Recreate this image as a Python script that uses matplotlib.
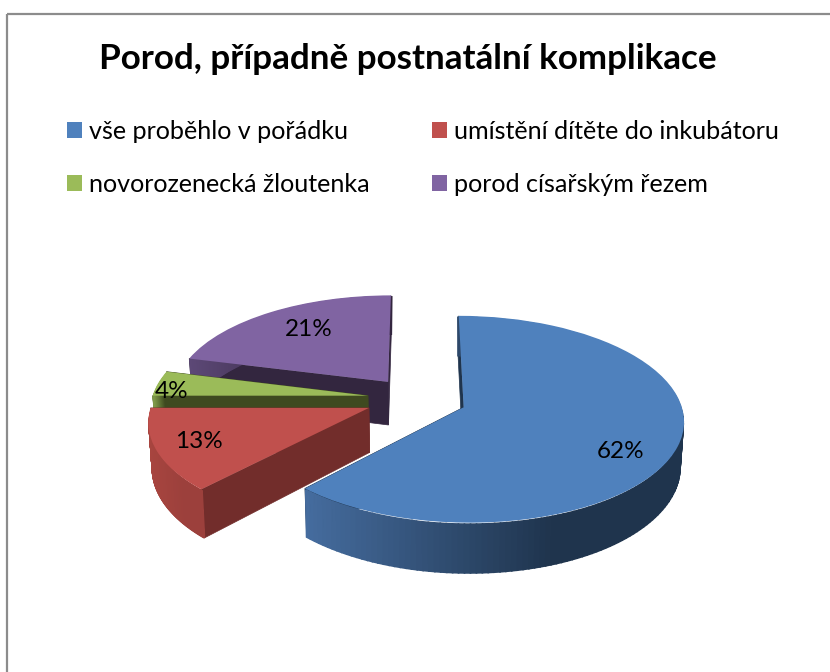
import numpy as np
import matplotlib
matplotlib.use('Agg')
import matplotlib.pyplot as plt
import matplotlib.transforms as mtransforms
from matplotlib.colors import to_rgb
from matplotlib.patches import Polygon

title = 'Porod, případně postnatální komplikace'
categories = ['vše proběhlo v pořádku', 'umístění dítěte do inkubátoru',
              'novorozenecká žloutenka', 'porod císařským řezem']
values = [62, 13, 4, 21]
colors = ['#4f81bd', '#c0504d', '#9bbb59', '#8064a2']
cut_colors = ['#1f344d', '#722d2b', '#3f4a20', '#33263f']
rim_light = ['#456c9e', '#a8453f', '#7d9748', '#5c4876']
rim_dark = ['#1f344d', '#9c403c', '#3f4a20', '#33263f']
explode = [0.235, 0.235, 0.225, 0.215]
label_pos = [(621, 451), (199, 442), (172, 391), (309, 329)]

# perspective of the pie plane, in pixels
sx, sy = 416, 398.5
kx, ky = 216, 100
p = 0.115
depth = 44


class Persp(mtransforms.Transform):
    input_dims = 2
    output_dims = 2

    def transform_non_affine(self, xy):
        xy = np.asarray(xy, dtype=float)
        w = 1 + p * xy[:, 1]
        return np.column_stack((sx + kx * xy[:, 0] / w, sy - ky * xy[:, 1] / w))


persp = Persp()


def extrude(pts):
    # bottom edge of a side face, below the top one
    uv = np.asarray(pts)
    top = persp.transform(uv)
    w = 1 + p * uv[:, 1]
    bot = np.column_stack((sx + (top[:, 0] - sx) * 0.985, top[:, 1] + depth / w))
    return top, bot


def side_face(ax, pts, color, z):
    top, bot = extrude(pts)
    ax.add_patch(Polygon(np.vstack((top, bot[::-1])), closed=True, fc=color, ec=color, lw=0.5, zorder=z))


plt.rcParams['font.family'] = ['Lato', 'DejaVu Sans']
fig = plt.figure(figsize=(8.3, 6.72), dpi=100)
ax = fig.add_axes([0, 0, 1, 1])

wedges, _ = ax.pie(values, colors=colors, explode=explode, startangle=90, counterclock=False)
ax.set_aspect('auto')
ax.set_xlim(0, 830)
ax.set_ylim(672, 0)
ax.axis('off')

# back to front: purple, green, red, blue
draw_order = [3, 2, 1, 0]
for n, i in enumerate(draw_order):
    wd = wedges[i]
    base = 10 + n * 5
    cx, cy = wd.center
    t = np.radians(np.linspace(wd.theta1, wd.theta2, 160))
    rim = np.column_stack((cx + wd.r * np.cos(t), cy + wd.r * np.sin(t)))

    # the two cut faces
    for k in [0, -1]:
        side_face(ax, [rim[k], (cx, cy)], cut_colors[i], base)

    # outer wall as thin strips, lighter towards the left
    top, bot = extrude(rim)
    # pull the top of the strips in so their stroke stays under the top face
    top_in = top + np.column_stack((np.sign(sx - top[:, 0]) * 0.8, np.full(len(top), 1.5)))
    light, dark = np.array(to_rgb(rim_light[i])), np.array(to_rgb(rim_dark[i]))
    x_lo, x_hi = top[:, 0].min(), top[:, 0].max()
    for j in range(len(rim) - 1):
        f = np.clip((top[j, 0] - x_lo) / (0.65 * (x_hi - x_lo)), 0, 1)
        c = light + (dark - light) * f
        quad = np.vstack((top_in[j:j + 2], bot[j:j + 2][::-1]))
        ax.add_patch(Polygon(quad, closed=True, fc=c, ec=c, lw=1.2, zorder=base + 1))

    wd.set_transform(persp + ax.transData)
    wd.set_zorder(base + 2)
    wd.set_edgecolor('none')
    wd.set_clip_on(False)

    ax.text(label_pos[i][0], label_pos[i][1], f'{values[i]}%', ha='center', va='center',
            fontsize=17.5, color='black', zorder=40)

ax.text(408, 59, title, ha='center', va='center', fontsize=25.2, fontweight='bold', color='black')

# row order in the legend comes from filling column by column
order = [0, 2, 1, 3]
leg = ax.legend([wedges[i] for i in order], [categories[i] for i in order], ncols=2,
                loc='upper left', bbox_to_anchor=(67 / 830, 1 - 120 / 672), frameon=False,
                fontsize=18.1, handlelength=0.6, handleheight=0.6, handletextpad=0.27,
                columnspacing=2.5, labelspacing=1.2, borderpad=0, borderaxespad=0)

# what is left of the chart frame
ax.plot([7, 7], [672, 13.5], color='#8c8c8c', lw=1.6, solid_capstyle='butt', zorder=1)
ax.plot([7, 830], [13.5, 13.5], color='#8c8c8c', lw=1.6, solid_capstyle='butt', zorder=1)

fig.savefig('out.png', dpi=100)
